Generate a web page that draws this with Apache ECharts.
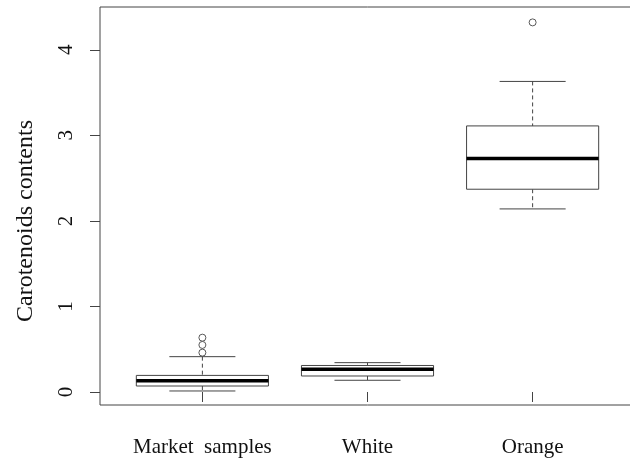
<!DOCTYPE html>
<html>
<head>
<meta charset="utf-8">
<script src="https://cdn.jsdelivr.net/npm/echarts@6/dist/echarts.min.js"></script>
<style>
  html, body { margin: 0; padding: 0; background: #fff; overflow: hidden; }
  /* el marco derecho de la figura original queda cortado fuera de la imagen */
  #chart { width: 640px; height: 463px; }
</style>
</head>
<body>
<div id="chart"></div>
<script>
// Boxplot: contenido de carotenoides por grupo

const categorias = ['Market  samples', 'White', 'Orange'];
const posiciones = [1, 2, 3];
const bigoteInf = [0.012, 0.137, 2.14];
const cuartil1 = [0.07, 0.187, 2.37];
const mediana = [0.132, 0.265, 2.73];
const cuartil3 = [0.194, 0.31, 3.11];
const bigoteSup = [0.413, 0.343, 3.63];
const atipicosX = [1, 1, 1, 3];
const atipicosY = [0.635, 0.55, 0.46, 4.32];
const ticksY = [0, 1, 2, 3, 4];

const fuente = '"Liberation Serif", "DejaVu Serif", serif';
const colorLinea = '#444';

const cajas = posiciones.map((p, i) => [p, bigoteInf[i], cuartil1[i], mediana[i], cuartil3[i], bigoteSup[i]]);
const atipicos = atipicosX.map((x, i) => [x, atipicosY[i]]);

function dibujarCaja(params, api) {
    const x = api.value(0);
    const lo = api.coord([x, api.value(1)]);
    const q1 = api.coord([x, api.value(2)]);
    const md = api.coord([x, api.value(3)]);
    const q3 = api.coord([x, api.value(4)]);
    const hi = api.coord([x, api.value(5)]);
    const anchoCaja = api.size([0.8, 0])[0];
    const anchoTope = anchoCaja / 2;
    const cx = lo[0];
    const linea = { stroke: colorLinea, lineWidth: 1 };
    const discontinua = { stroke: colorLinea, lineWidth: 1, lineDash: [4, 3] };
    return {
        type: 'group',
        children: [
            { type: 'line', shape: { x1: cx, y1: hi[1], x2: cx, y2: q3[1] }, style: discontinua },
            { type: 'line', shape: { x1: cx, y1: q1[1], x2: cx, y2: lo[1] }, style: discontinua },
            { type: 'line', shape: { x1: cx - anchoTope / 2, y1: hi[1], x2: cx + anchoTope / 2, y2: hi[1] }, style: linea },
            { type: 'line', shape: { x1: cx - anchoTope / 2, y1: lo[1], x2: cx + anchoTope / 2, y2: lo[1] }, style: linea },
            {
                type: 'rect',
                shape: { x: cx - anchoCaja / 2, y: q3[1], width: anchoCaja, height: q1[1] - q3[1] },
                style: { fill: '#fff', stroke: colorLinea, lineWidth: 1 }
            },
            { type: 'line', shape: { x1: cx - anchoCaja / 2, y1: md[1], x2: cx + anchoCaja / 2, y2: md[1] }, style: { stroke: '#000', lineWidth: 3.5 } }
        ]
    };
}

const chart = echarts.init(document.getElementById('chart'));

chart.setOption({
    animation: false,
    backgroundColor: '#fff',
    grid: {
        show: true,
        left: 100,
        right: 5,
        top: 7,
        bottom: 58,
        borderColor: colorLinea,
        borderWidth: 1,
        backgroundColor: 'transparent'
    },
    xAxis: {
        type: 'value',
        min: 0.38,
        max: 3.62,
        splitLine: { show: false },
        axisLine: { show: false },
        axisTick: {
            show: true,
            customValues: posiciones,
            length: 10,
            lineStyle: { color: colorLinea }
        },
        axisLabel: {
            customValues: posiciones,
            formatter: v => categorias[Math.round(v) - 1] || '',
            margin: 32,
            color: '#111',
            fontFamily: fuente,
            fontSize: 21
        }
    },
    yAxis: {
        type: 'value',
        min: -0.152,
        max: 4.5,
        splitLine: { show: false },
        axisLine: { show: false },
        axisTick: {
            show: true,
            customValues: ticksY,
            length: 10,
            lineStyle: { color: colorLinea }
        },
        axisLabel: {
            customValues: ticksY,
            rotate: 90,
            margin: 23,
            color: '#111',
            fontFamily: fuente,
            fontSize: 21
        },
        name: 'Carotenoids contents',
        nameLocation: 'middle',
        nameGap: 62,
        nameRotate: 90,
        nameTextStyle: {
            color: '#111',
            fontFamily: fuente,
            fontSize: 24,
            padding: [0, 30, 0, 0]
        }
    },
    series: [
        {
            type: 'custom',
            renderItem: dibujarCaja,
            encode: { x: 0, y: [1, 2, 3, 4, 5] },
            data: cajas,
            z: 2
        },
        {
            type: 'scatter',
            symbol: 'circle',
            symbolSize: 7,
            itemStyle: { color: '#fff', borderColor: '#333', borderWidth: 1 },
            data: atipicos,
            z: 3
        }
    ]
});
</script>
</body>
</html>
